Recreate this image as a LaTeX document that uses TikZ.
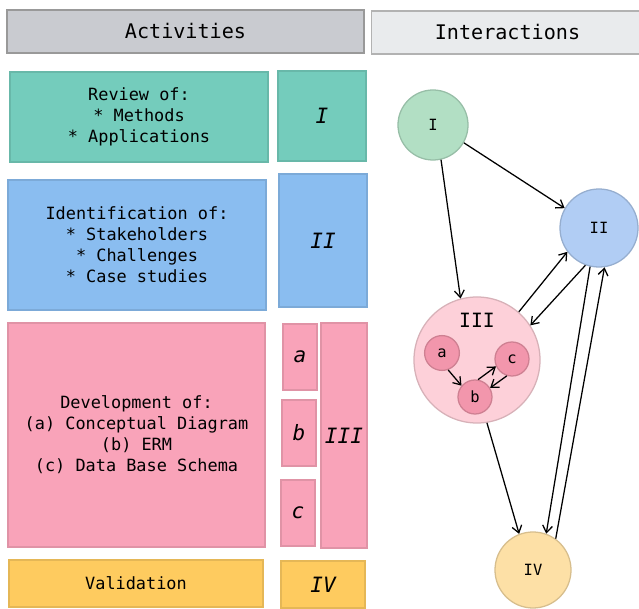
\documentclass[tikz,border=0pt]{standalone}
\usepackage{fontspec}
\setmainfont{DejaVu Sans Mono}
\usepackage{tikz}
\usetikzlibrary{arrows.meta}

\definecolor{hdgray}{HTML}{C9CBD0}
\definecolor{hdlight}{HTML}{E9EBED}
\definecolor{teal1}{HTML}{74CCBC}
\definecolor{blue1}{HTML}{8ABDF0}
\definecolor{pink1}{HTML}{F9A3B9}
\definecolor{yellow1}{HTML}{FECB5F}
\definecolor{green2}{HTML}{B2DFC4}
\definecolor{blue2}{HTML}{B1CDF4}
\definecolor{pink2}{HTML}{FDD0D9}
\definecolor{yellow2}{HTML}{FDE0A6}
\definecolor{pink3}{HTML}{F296AC}

\begin{document}
\begin{tikzpicture}[x=0.025cm,y=-0.025cm,
    >={Straight Barb[length=5pt,width=7pt]},
    box/.style={rectangle,inner sep=0pt,align=center,font=\fontsize{12}{14.9}\selectfont},
    hdbox/.style={box,draw=gray!80,minimum height=1.075cm,font=\fontsize{14.3}{17}\selectfont},
    numbox/.style={box,font=\fontsize{15}{18}\selectfont\itshape},
    stage/.style={circle,inner sep=0pt,font=\fontsize{11}{13}\selectfont},
    sub/.style={circle,inner sep=0pt,minimum size=0.87cm,fill=pink3,draw=pink3!85!black,font=\fontsize{11}{13}\selectfont},
    every path/.style={line width=0.9pt}]
    \useasboundingbox (0,0) rectangle (639,609);

    % column headers
    \node[hdbox,fill=hdgray,minimum width=8.925cm] (act) at (185.5,31.5) {Activities};
    \node[hdbox,fill=hdlight,draw=gray!60,minimum width=6.8cm] (inter) at (507.5,32.5) {Interactions};

    % activities column
    \node[box,fill=teal1,draw=teal1!90!black,minimum width=6.45cm,minimum height=2.25cm] (review) at (139,117)
        {Review of:\\* Methods\\* Applications};
    \node[numbox,fill=teal1,draw=teal1!90!black,minimum width=2.2cm,minimum height=2.25cm] (boxI) at (322,116) {I};
    \node[box,fill=blue1,draw=blue1!90!black,minimum width=6.45cm,minimum height=3.25cm] (ident) at (137,245)
        {Identification of:\\* Stakeholders\\* Challenges\\* Case studies};
    \node[numbox,fill=blue1,draw=blue1!90!black,minimum width=2.2cm,minimum height=3.325cm] (boxII) at (323,240.5) {II};
    \node[box,fill=pink1,draw=pink1!90!black,minimum width=6.425cm,minimum height=5.6cm] (devel) at (136.5,435)
        {Development of:\\(a) Conceptual Diagram\\(b) ERM\\(c) Data Base Schema};
    \node[numbox,fill=pink1,draw=pink1!90!black,minimum width=0.85cm,minimum height=1.65cm] (boxa) at (300,357) {a};
    \node[numbox,fill=pink1,draw=pink1!90!black,minimum width=0.85cm,minimum height=1.65cm] (boxb) at (299,433) {b};
    \node[numbox,fill=pink1,draw=pink1!90!black,minimum width=0.85cm,minimum height=1.65cm] (boxc) at (298,513) {c};
    \node[numbox,fill=pink1,draw=pink1!90!black,minimum width=1.15cm,minimum height=5.625cm] (boxIII) at (344,435.5) {III};
    \node[box,fill=yellow1,draw=yellow1!90!black,minimum width=6.35cm,minimum height=1.175cm] (valid) at (136,583.5) {Validation};
    \node[numbox,fill=yellow1,draw=yellow1!90!black,minimum width=2.1cm,minimum height=1.175cm] (boxIV) at (323,584.5) {IV};

    % interactions column
    \node[stage,fill=green2,draw=green2!85!black,minimum size=1.75cm] (I) at (433,125) {I};
    \node[stage,fill=blue2,draw=blue2!85!black,minimum size=1.95cm] (II) at (599,228) {II};
    \node[stage,fill=pink2,draw=pink2!85!black,minimum size=3.15cm] (III) at (477,360) {};
    \node[stage,font=\fontsize{14}{16}\selectfont] (IIIlab) at (477,320) {III};
    \node[stage,fill=yellow2,draw=yellow2!85!black,minimum size=1.9cm] (IV) at (533,570) {IV};
    \node[sub] (a) at (442,353) {a};
    \node[sub,minimum size=0.85cm] (b) at (475,397) {b};
    \node[sub,minimum size=0.85cm] (c) at (512,359) {c};

    \draw[->] (I.-30) -- (II.150);
    \draw[->] (I.-77) -- (III.105);
    \draw[->] (III.49) -- (II.217);
    \draw[->] (II.250) -- (III.33);
    \draw[->] (III.-81) -- (IV.111);
    \draw[->] (II.257) -- (IV.70);
    \draw[->] (IV.54) -- (II.-82);
    \draw[->] (a.-70) -- (b.140);
    \draw[->] (b.80) -- (c.205);
    \draw[->] (c.253) -- (b.31);
\end{tikzpicture}
\end{document}
